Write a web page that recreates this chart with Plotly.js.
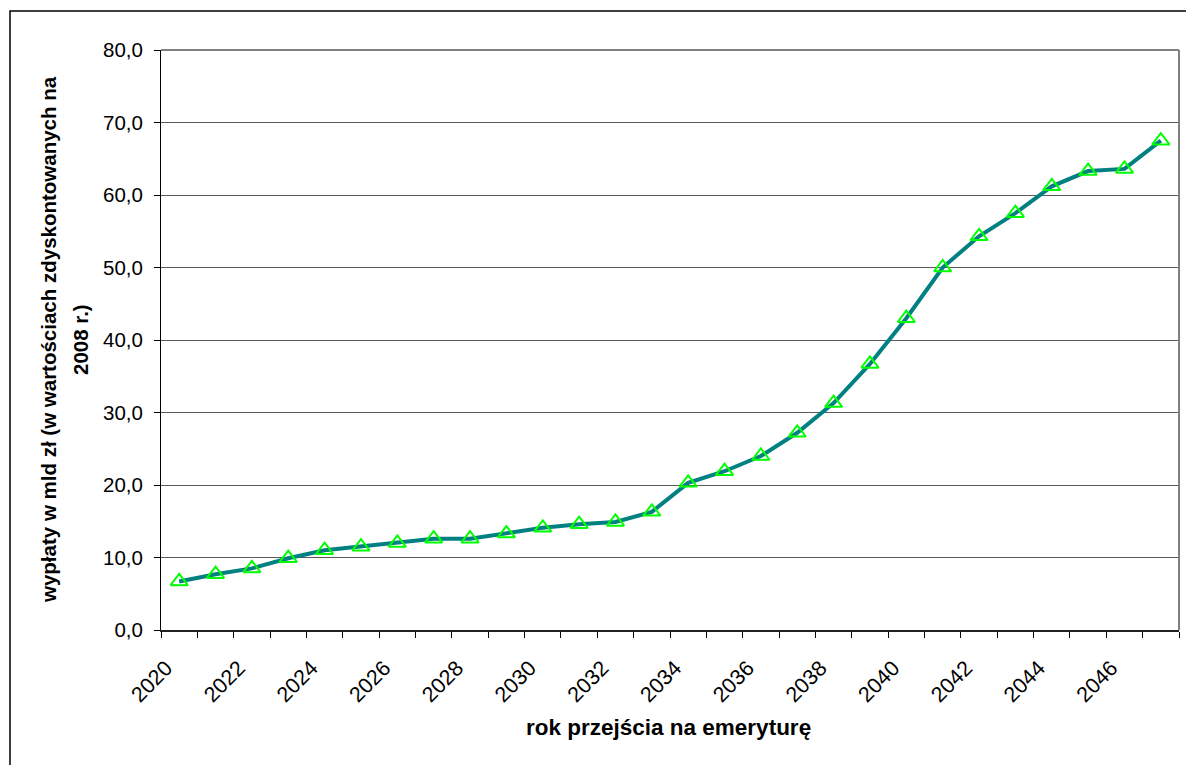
<!DOCTYPE html>
<html>
<head>
<meta charset="utf-8">
<script src="https://cdn.plot.ly/plotly-3.0.1.min.js"></script>
<style>
html,body{margin:0;padding:0;background:#fff;}
#chart{width:1186px;height:765px;}
</style>
</head>
<body>
<div id="chart"></div>
<script>
const years = [2020,2021,2022,2023,2024,2025,2026,2027,2028,2029,2030,2031,2032,2033,2034,2035,2036,2037,2038,2039,2040,2041,2042,2043,2044,2045,2046,2047];
const payouts = [6.7,7.7,8.5,9.9,11.0,11.5,12.0,12.6,12.6,13.3,14.1,14.6,14.9,16.3,20.3,21.9,24.0,27.2,31.3,36.7,43.0,50.0,54.3,57.5,61.2,63.3,63.6,67.5];
const tickYears = [2020,2022,2024,2026,2028,2030,2032,2034,2036,2038,2040,2042,2044,2046];
const yTicks = [0,10,20,30,40,50,60,70,80];
const xTitle = 'rok przejścia na emeryturę';
const yTitleLines = ['wypłaty w mld zł (w wartościach zdyskontowanych na', '2008 r.)'];

const FONT = 'Liberation Sans, Arial, sans-serif';

const trace = {
  x: years,
  y: payouts,
  type: 'scatter',
  mode: 'lines+markers',
  line: {color: '#008080', width: 4},
  marker: {symbol: 'triangle-up-open', size: 15, color: '#00FF00', line: {color: '#00FF00', width: 2}},
  cliponaxis: false,
  hoverinfo: 'x+y'
};

// plot area: x 161..1179, y 50..630
const plotL = 161, plotW = 1018, plotT = 50, plotH = 580;
const px = x => (x - plotL) / plotW;
const py = y => (plotT + plotH - y) / plotH;

const layout = {
  width: 1186,
  height: 765,
  margin: {l: 161, r: 7, t: 50, b: 135},
  paper_bgcolor: '#ffffff',
  plot_bgcolor: '#ffffff',
  separators: ', ',
  showlegend: false,
  font: {family: FONT, color: '#000', size: 20},
  xaxis: {
    range: [2019.5, 2047.5],
    tickmode: 'array',
    tickvals: tickYears,
    ticktext: tickYears.map(String),
    tickangle: -45,
    ticks: '',
    ticklen: 0,
    ticklabelshift: -13,
    ticklabelstandoff: 15,
    showgrid: false,
    zeroline: false,
    showline: true,
    linecolor: '#222222',
    linewidth: 2,
    tickfont: {family: FONT, size: 21.5, color: '#000'},
    minor: {tick0: 2019.5, dtick: 1, ticks: 'outside', ticklen: 6, tickcolor: '#000', tickwidth: 1, showgrid: false},
    fixedrange: true
  },
  yaxis: {
    range: [0, 80],
    tickmode: 'array',
    tickvals: yTicks,
    tickformat: '.1f',
    ticks: 'outside',
    ticklen: 6,
    tickcolor: '#000',
    ticklabelstandoff: 7,
    showgrid: true,
    gridcolor: '#5a5a5a',
    gridwidth: 1,
    zeroline: false,
    showline: true,
    linecolor: '#000',
    linewidth: 1,
    tickfont: {family: FONT, size: 20.5, color: '#000'},
    fixedrange: true
  },
  annotations: [
    {xref: 'paper', yref: 'paper', x: px(668), y: py(727), text: '<b>' + xTitle + '</b>', showarrow: false,
     xanchor: 'center', yanchor: 'middle', font: {family: FONT, size: 22.5, color: '#000'}},
    {xref: 'paper', yref: 'paper', x: px(48), y: py(340), text: '<b>' + yTitleLines[0] + '</b>', showarrow: false,
     textangle: -90, xanchor: 'center', yanchor: 'middle', font: {family: FONT, size: 20.5, color: '#000'}},
    {xref: 'paper', yref: 'paper', x: px(80), y: py(340), text: '<b>' + yTitleLines[1] + '</b>', showarrow: false,
     textangle: -90, xanchor: 'center', yanchor: 'middle', font: {family: FONT, size: 20.5, color: '#000'}}
  ],
  shapes: [
    {type: 'line', xref: 'paper', yref: 'paper', x0: 0, x1: 1, y0: 1, y1: 1, line: {color: '#808080', width: 2}},
    {type: 'line', xref: 'paper', yref: 'paper', x0: 1, x1: 1, y0: 0, y1: 1, line: {color: '#808080', width: 2}},
    {type: 'rect', xref: 'paper', yref: 'paper', x0: px(10), x1: 1.3, y0: -0.5, y1: py(11), line: {color: '#000', width: 1.5}, fillcolor: 'rgba(0,0,0,0)', layer: 'below'}
  ]
};

Plotly.newPlot('chart', [trace], layout, {displayModeBar: false, staticPlot: true});
</script>
</body>
</html>
